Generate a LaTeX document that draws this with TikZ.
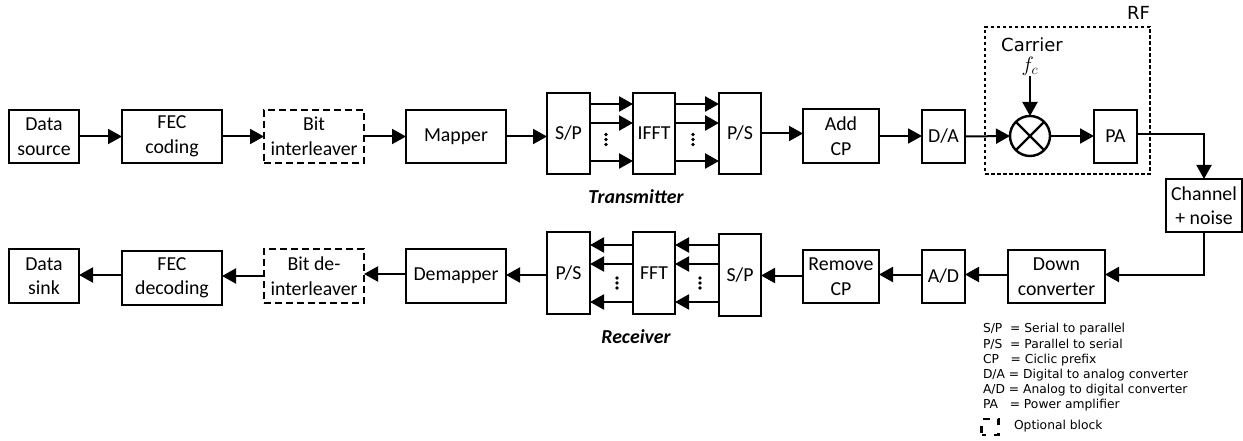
\documentclass[tikz,border=0pt]{standalone}
\usepackage{fontspec}
\setmainfont{Carlito}
\newfontfamily\dejavu{DejaVu Sans}
\usetikzlibrary{arrows.meta,calc}
\tikzset{
  blk/.style={draw=black,line width=2.6pt,rectangle,inner sep=0pt,outer sep=0pt,align=center,font=\fontsize{19.8}{24.5}\selectfont},
  opt/.style={blk,dash pattern=on 7pt off 4pt},
  wire/.style={draw=black,line width=2pt,-{Triangle[length=14pt,width=15pt]}},
  bus/.style={wire,line width=2.6pt},
  vdots/.style={fill=black,circle,inner sep=0pt,minimum size=3.8pt},
  djv/.style={inner sep=0pt,outer sep=0pt,font=\dejavu\fontsize{18}{22}\selectfont},
  legendtxt/.style={inner sep=0pt,outer sep=0pt,anchor=west,font=\dejavu\fontsize{12.3}{15.3}\selectfont},
  side/.style={inner sep=0pt,font=\fontsize{19.8}{22}\selectfont\bfseries\itshape}
}
\begin{document}
\begin{tikzpicture}[x=1pt,y=-1pt]
\useasboundingbox (0,0) rectangle (1243,441);
% top row
\node[blk,minimum width=70pt,minimum height=53pt] (src) at (44,136.5) {Data\\source};
\node[blk,minimum width=100pt,minimum height=53pt] (fec) at (172,136.5) {FEC\\coding};
\node[opt,minimum width=100pt,minimum height=53pt] (bit) at (314,136.5) {Bit\\interleaver};
\node[blk,minimum width=100pt,minimum height=53pt] (map) at (456,136.5) {Mapper};
\node[blk,minimum width=43pt,minimum height=81pt] (sp) at (568.5,133.5) {S/P};
\node[blk,minimum width=42pt,minimum height=81pt] (ifft) at (654,133.5) {IFFT};
\node[blk,minimum width=42pt,minimum height=81pt] (ps) at (740,133.5) {P/S};
\node[blk,minimum width=76pt,minimum height=54pt] (add) at (841,136) {Add\\CP};
\node[blk,minimum width=43pt,minimum height=53pt] (da) at (943.5,136.5) {D/A};
\node[circle,draw=black,line width=2.4pt,inner sep=0pt,outer sep=0pt,minimum size=40pt] (mix) at (1030,136) {};
\node[blk,minimum width=43pt,minimum height=53pt] (pa) at (1115.5,136.5) {PA};
\node[draw=black,line width=2.4pt,dash pattern=on 3.5pt off 2.5pt,inner sep=0pt,outer sep=0pt,minimum width=165pt,minimum height=147pt] (rf) at (1067.5,100.5) {};
\node[djv,anchor=base east] (rflab) at (1150,20) {RF};
\node[djv,anchor=base] (car) at (1032,52) {Carrier};
\node[inner sep=0pt,font=\fontsize{20}{22}\selectfont] (fc) at (1030,66.5) {$f_c$};
\node[blk,minimum width=76pt,minimum height=53pt] (chan) at (1204,205.5) {Channel\\+ noise};
% bottom row
\node[blk,minimum width=97pt,minimum height=53pt] (down) at (1056.5,276.5) {Down\\converter};
\node[blk,minimum width=43pt,minimum height=53pt] (ad) at (943.5,276.5) {A/D};
\node[blk,minimum width=76pt,minimum height=53pt] (rem) at (841,276.5) {Remove\\CP};
\node[blk,minimum width=42pt,minimum height=82pt] (sp2) at (740,275) {S/P};
\node[blk,minimum width=42pt,minimum height=82pt] (fft) at (654,273) {FFT};
\node[blk,minimum width=43pt,minimum height=82pt] (ps2) at (568.5,273) {P/S};
\node[blk,minimum width=100pt,minimum height=54pt] (dem) at (456,276) {Demapper};
\node[opt,minimum width=100pt,minimum height=54pt] (bit2) at (314,276) {Bit de-\\interleaver};
\node[blk,minimum width=100pt,minimum height=54pt] (fec2) at (172,278) {FEC\\decoding};
\node[blk,minimum width=70pt,minimum height=54pt] (snk) at (44,276) {Data\\sink};
% connectors top
\draw[wire] (src.east) -- (fec.west);
\draw[wire] (fec.east) -- (bit.west);
\draw[wire] (bit.east) -- (map.west);
\draw[wire] (map.east) -- (map.east -| sp.west);
\foreach \s in {29.5,10.5,-27.5}{
  \draw[bus] ([yshift=\s pt]sp.east) -- ([yshift=\s pt]ifft.west);
  \draw[bus] ([yshift=\s pt]ifft.east) -- ([yshift=\s pt]ps.west);
}
\draw[wire] (ps.east) -- (ps.east -| add.west);
\draw[wire] (add.east) -- (add.east -| da.west);
\draw[wire] (da.east) -- (mix.west);
\draw[wire] (mix.east) -- (mix.east -| pa.west);
\draw[wire] (fc.south) -- (mix.north);
\draw[line width=2.4pt] (mix.45) -- (mix.225) (mix.135) -- (mix.315);
\draw[wire] ([yshift=2.5pt]pa.east) -| (chan.north);
\draw[wire] (chan.south) |- ([yshift=2pt]down.east);
% connectors bottom
\draw[wire] ([yshift=2pt]down.west) -- ([yshift=2pt]down.west -| ad.east);
\draw[wire] ([yshift=2pt]ad.west) -- ([yshift=2pt]ad.west -| rem.east);
\draw[wire] ([yshift=1pt]rem.west) -- ([yshift=1pt]rem.west -| sp2.east);
\foreach \s in {28,9,-29}{
  \draw[wire] ([yshift=\s pt]fft.east -| sp2.west) -- ([yshift=\s pt]fft.east);
  \draw[wire] ([yshift=\s pt]fft.west) -- ([yshift=\s pt]ps2.east);
}
\draw[wire] ([yshift=-2pt]ps2.west) -- ([yshift=-2pt]ps2.west -| dem.east);
\draw[wire] ([yshift=2pt]dem.west) -- ([yshift=2pt]dem.west -| bit2.east);
\draw[wire] (bit2.west) -- (bit2.west -| fec2.east);
\draw[wire] ([yshift=3pt]fec2.west) -- ([yshift=3pt]fec2.west -| snk.east);
% ellipsis dots
\foreach \x/\y in {606/134.5,693/134.5,617/278,700/278}{
  \node[vdots] (d1) at (\x,\y) {};
  \node[vdots] (d2) at (\x,\y+5) {};
  \node[vdots] (d3) at (\x,\y+10) {};
}
% labels
\node[side] (tx) at (636,197) {Transmitter};
\node[side] (rx) at (636,337) {Receiver};
% legend
\node[legendtxt] (l1) at (983,329) {S/P\ \ = Serial to parallel};
\node[legendtxt] (l2) at (983,344.5) {P/S\ \ = Parallel to serial};
\node[legendtxt] (l3) at (983,360) {CP\ \ \ = Ciclic prefix};
\node[legendtxt] (l4) at (983,375) {D/A = Digital to analog converter};
\node[legendtxt] (l5) at (983,390.5) {A/D = Analog to digital converter};
\node[legendtxt] (l6) at (983,405.5) {PA\ \ \ = Power amplifier};
\node[draw=black,line width=2.4pt,dash pattern=on 7pt off 8pt,dash phase=3pt,inner sep=0pt,minimum width=17pt,minimum height=16pt] (lk) at (990,427) {};
\node[legendtxt] (l7) at (1014,426) {Optional block};
\end{tikzpicture}
\end{document}
